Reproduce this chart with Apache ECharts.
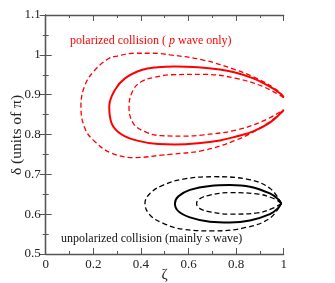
<!DOCTYPE html>
<html><head><meta charset="utf-8">
<script src="https://cdn.jsdelivr.net/npm/echarts@6/dist/echarts.min.js"></script>
<style>html,body{margin:0;padding:0;background:#fff}#c{width:335px;height:283px}</style>
</head><body><div id="c"></div>
<script>
var xTicks = [0, 0.2, 0.4, 0.6, 0.8, 1];
var yTicks = [0.5, 0.6, 0.7, 0.8, 0.9, 1, 1.1];
var redSolid = [[1.0,0.893],[0.99,0.901],[0.942,0.920],[0.872,0.941],[0.80,0.955],[0.732,0.963],[0.64,0.969],[0.543,0.971],[0.47,0.969],[0.403,0.962],[0.333,0.941],[0.291,0.912],[0.267,0.870],[0.277,0.828],[0.319,0.800],[0.389,0.784],[0.473,0.776],[0.543,0.775],[0.64,0.778],[0.732,0.785],[0.80,0.795],[0.872,0.808],[0.942,0.830],[0.99,0.855],[1.0,0.862]];
var redOuter = [[1.0,0.893],[0.97,0.912],[0.90,0.937],[0.80,0.962],[0.662,0.987],[0.522,1.0],[0.45,1.004],[0.375,1.004],[0.30,0.997],[0.263,0.99],[0.207,0.962],[0.165,0.924],[0.148,0.870],[0.165,0.815],[0.207,0.782],[0.277,0.753],[0.375,0.742],[0.487,0.748],[0.522,0.75],[0.662,0.76],[0.80,0.786],[0.90,0.816],[0.97,0.845],[1.0,0.862]];
var redInner = [[1.0,0.893],[0.914,0.920],[0.80,0.941],[0.662,0.951],[0.529,0.950],[0.459,0.944],[0.403,0.933],[0.368,0.912],[0.35,0.870],[0.368,0.828],[0.417,0.807],[0.487,0.797],[0.58,0.796],[0.662,0.799],[0.80,0.811],[0.914,0.834],[1.0,0.862]];
var blackSolid = [[0.99,0.627],[0.976,0.638],[0.942,0.652],[0.858,0.669],[0.774,0.673],[0.69,0.671],[0.606,0.661],[0.558,0.645],[0.543,0.627],[0.558,0.607],[0.606,0.592],[0.69,0.581],[0.774,0.579],[0.858,0.584],[0.942,0.600],[0.976,0.615],[0.99,0.627]];
var blackOuter = [[0.99,0.627],[0.942,0.665],[0.845,0.688],[0.704,0.694],[0.578,0.688],[0.494,0.673],[0.438,0.652],[0.417,0.627],[0.438,0.598],[0.494,0.577],[0.578,0.562],[0.704,0.558],[0.845,0.567],[0.942,0.590],[0.99,0.627]];
var blackInner = [[0.99,0.627],[0.955,0.640],[0.887,0.651],[0.774,0.654],[0.69,0.648],[0.648,0.639],[0.634,0.627],[0.648,0.614],[0.69,0.606],[0.774,0.600],[0.887,0.603],[0.955,0.615],[0.99,0.627]];

var FONT = '"Liberation Serif","DejaVu Serif",serif';
var axisCol = '#555';
function axisBase(extra){
  var a = {
    type:'value',
    axisLine:{show:true,lineStyle:{color:axisCol,width:1.3}},
    axisTick:{show:true,inside:true,length:6,lineStyle:{color:axisCol,width:1}},
    minorTick:{show:true,splitNumber:2,length:3,lineStyle:{color:axisCol,width:1}},
    splitLine:{show:false},
    axisLabel:{fontFamily:FONT,fontSize:13,color:'#222'}
  };
  for (var k in extra) a[k]=extra[k];
  return a;
}
var chart = echarts.init(document.getElementById('c'));
function ln(data,color,dashed){
  return {type:'line',data:data,smooth:0.4,showSymbol:true,symbol:'circle',symbolSize:1,
    itemStyle:{color:color,opacity:0},animation:false,
    lineStyle:{color:color,width:dashed?1.3:2,type:dashed?[5,3]:'solid'}};
}
chart.setOption({
  animation:false,
  grid:{left:45.7,right:51.3,top:15,bottom:29,containLabel:false,outerBoundsMode:'none'},
  xAxis:[
    axisBase({min:xTicks[0],max:xTicks[xTicks.length-1],interval:0.2,
      axisLabel:{fontFamily:FONT,fontSize:13,color:'#222',margin:4,formatter:function(v){return String(+v.toFixed(1));}},
      name:'ζ',nameLocation:'middle',nameGap:14,nameMoveOverlap:false,nameTextStyle:{fontFamily:FONT,fontSize:15,color:'#222'}}),
    axisBase({position:'top',min:0,max:1,interval:0.2,axisLabel:{show:false}})
  ],
  yAxis:[
    axisBase({min:yTicks[0],max:yTicks[yTicks.length-1],interval:0.1,
      axisLabel:{fontFamily:FONT,fontSize:13,color:'#222',margin:5,formatter:function(v){return String(+v.toFixed(1));}}}),
    axisBase({position:'right',min:0.5,max:1.1,interval:0.1,axisLabel:{show:false}})
  ],
  series:[
    ln(redOuter,'#ff0000',true),
    ln(redInner,'#ff0000',true),
    ln(redSolid,'#ff0000',false),
    ln(blackOuter,'#000',true),
    ln(blackInner,'#000',true),
    ln(blackSolid,'#000',false)
  ],
  graphic:[
    {type:'text',x:17,y:135,rotation:Math.PI/2,style:{text:'δ (units of π)',fontFamily:FONT,fontSize:15.5,fill:'#222',align:'center',verticalAlign:'middle'}},
    {type:'text',left:70,top:35,style:{text:'{a|polarized collision ( }{i|p}{a| wave only)}',
      rich:{a:{fontFamily:FONT,fontSize:12,fill:'#ff0000'},i:{fontFamily:FONT,fontSize:12,fontStyle:'italic',fill:'#ff0000'}}}},
    {type:'text',left:61,top:233,style:{text:'{a|unpolarized collision (mainly }{i|s}{a| wave)}',
      rich:{a:{fontFamily:FONT,fontSize:12,fill:'#111'},i:{fontFamily:FONT,fontSize:12,fontStyle:'italic',fill:'#111'}}}}
  ]
});
</script></body></html>
